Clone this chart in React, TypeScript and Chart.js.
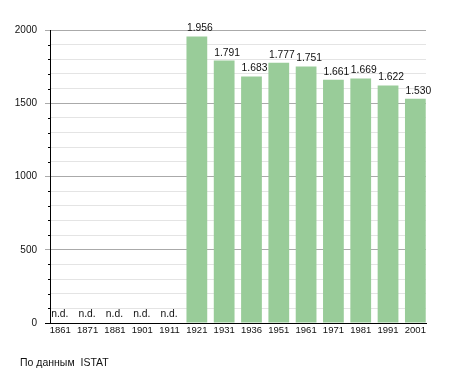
import { useEffect, useRef } from "react";
import { Chart, registerables } from "chart.js";

Chart.register(...registerables);

const years = ["1861", "1871", "1881", "1901", "1911", "1921", "1931", "1936", "1951", "1961", "1971", "1981", "1991", "2001"];
const population: (number | null)[] = [null, null, null, null, null, 1956, 1791, 1683, 1777, 1751, 1661, 1669, 1622, 1530];
const missingLabel = "n.d.";
const yMajorStep = 500;
const yMinorStep = 100;
const yMax = 2000;
const sourceNote = "По данным  ISTAT";

const FONT = '"Liberation Sans", Arial, Helvetica, sans-serif';

function formatIt(v: number): string {
  const th = Math.floor(v / 1000);
  const rest = v % 1000;
  return th > 0 ? th + "." + String(rest).padStart(3, "0") : String(rest);
}

const labelsPlugin = {
  id: "valueLabels",
  afterDatasetsDraw(chart: any) {
    const ctx = chart.ctx;
    const meta = chart.getDatasetMeta(0);
    const yScale = chart.scales.y;
    const xScale = chart.scales.x;
    ctx.save();
    ctx.fillStyle = "#111";
    ctx.font = `10.3px ${FONT}`;
    ctx.textAlign = "center";
    ctx.textBaseline = "alphabetic";
    population.forEach((v, i) => {
      if (v == null) {
        const x = xScale.getPixelForValue(i);
        ctx.fillText(missingLabel, x - 0.5, yScale.getPixelForValue(0) - 6);
      } else {
        const el = meta.data[i];
        ctx.fillText(formatIt(v), el.x + 3, el.y - 5);
      }
    });
    ctx.restore();
  },
  afterDraw(chart: any) {
    const ctx = chart.ctx;
    const yScale = chart.scales.y;
    const left = chart.chartArea.left;
    ctx.save();
    ctx.strokeStyle = "#000";
    ctx.lineWidth = 1;
    for (let v = 0; v <= yMax; v += yMinorStep) {
      if (v % yMajorStep === 0) continue;
      const y = Math.round(yScale.getPixelForValue(v)) + 0.5;
      ctx.beginPath();
      ctx.moveTo(left - 2, y);
      ctx.lineTo(left, y);
      ctx.stroke();
    }
    ctx.restore();
  },
};

export default function App() {
  const ref = useRef<HTMLCanvasElement | null>(null);

  useEffect(() => {
    if (!ref.current) return;
    const chart = new Chart(ref.current, {
      type: "bar",
      data: {
        datasets: [
          {
            data: years.map((_, i) => ({ x: i, y: population[i] })) as any,
            backgroundColor: "#99cc99",
            borderWidth: 0,
            barPercentage: 0.76,
            categoryPercentage: 1,
          },
        ],
      },
      options: {
        animation: false,
        responsive: false,
        devicePixelRatio: 1,
        layout: { padding: { top: 30, right: 29, left: 0, bottom: 0 } },
        plugins: { legend: { display: false }, tooltip: { enabled: false } },
        scales: {
          x: {
            type: "linear",
            offset: false,
            min: -0.377,
            max: 13.39,
            afterBuildTicks: (scale: any) => {
              scale.ticks = years.map((_, i) => ({ value: i }));
            },
            afterFit: (scale: any) => {
              scale.height = 50;
            },
            grid: { display: false, drawTicks: false, offset: false },
            border: { display: true, color: "#000", width: 1 },
            ticks: {
              autoSkip: false,
              maxRotation: 0,
              minRotation: 0,
              padding: 2,
              color: "#111",
              font: { family: FONT, size: 9.5 },
              callback: (v: any) => years[Math.round(Number(v))] ?? "",
            },
          },
          y: {
            min: 0,
            max: yMax,
            afterFit: (scale: any) => {
              scale.width = 50;
            },
            grid: {
              color: (c: any) => (c.tick && c.tick.value % yMajorStep === 0 ? "#aaaaaa" : "#e4e4e4"),
              tickColor: (c: any) =>
                c.tick && c.tick.value === 0 ? "#000" : c.tick && c.tick.value % yMajorStep === 0 ? "#aaaaaa" : "rgba(0,0,0,0)",
              tickLength: 5,
              lineWidth: 1,
            },
            border: { display: true, color: "#000", width: 1 },
            ticks: {
              stepSize: yMinorStep,
              autoSkip: false,
              padding: 8,
              color: "#111",
              font: { family: FONT, size: 10 },
              callback: (v: any) => (Number(v) % yMajorStep === 0 ? String(v) : ""),
            },
          },
        },
      },
      plugins: [labelsPlugin],
    });
    return () => chart.destroy();
  }, []);

  return (
    <div style={{ position: "absolute", left: 0, top: 0, width: 455, height: 373, background: "#fff" }}>
      <canvas ref={ref} width={455} height={373} style={{ display: "block", width: 455, height: 373 }} />
      <div
        style={{
          position: "absolute",
          left: 20,
          top: 356,
          fontFamily: FONT,
          fontSize: 10.5,
          lineHeight: "12px",
          color: "#111",
          whiteSpace: "pre",
        }}
      >
        {sourceNote}
      </div>
    </div>
  );
}
